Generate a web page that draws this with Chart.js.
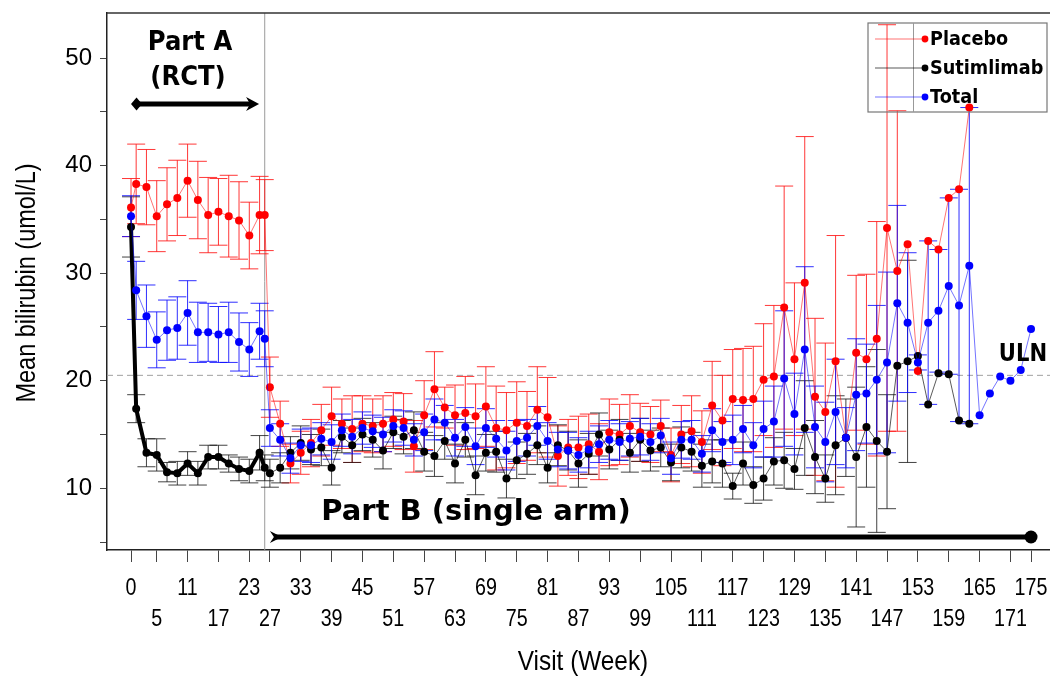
<!DOCTYPE html>
<html>
<head>
<meta charset="utf-8">
<title>Mean bilirubin by visit</title>
<script src="https://cdn.jsdelivr.net/npm/chart.js@4.4.0/dist/chart.umd.min.js"></script>
<style>
  html, body { margin: 0; padding: 0; background: #fff; overflow: hidden; }
  #wrap { width: 1050px; height: 677px; }
</style>
</head>
<body>
<div id="wrap"><canvas id="chart" width="1050" height="677"></canvas></div>
<script>
// visit weeks: Part A (RCT) then Part B (single arm)
const weeks = [
  0, 1, 3, 5, 7, 9, 11, 13, 15, 17, 19, 21, 23, 25, 26,
  27, 29, 31, 33, 35, 37, 39, 41, 43, 45,
  47, 49, 51, 53, 55, 57, 59, 61, 63, 65,
  67, 69, 71, 73, 75, 77, 79, 81, 83, 85,
  87, 89, 91, 93, 95, 97, 99, 101, 103, 105,
  107, 109, 111, 113, 115, 117, 119, 121, 123, 125,
  127, 129, 131, 133, 135, 137, 139, 141, 143, 145,
  147, 149, 151, 153, 155, 157, 159, 161, 163, 165,
  167, 169, 171, 173, 175
];

const placebo = [
  36.1, 38.3, 38.0, 35.3, 36.4, 37.0, 38.6, 36.8, 35.4, 35.7, 35.3, 34.9, 33.5, 35.4, 35.4,
  19.4, 16.0, 12.3, 13.3, 14.2, 15.4, 16.7, 16.0, 15.5, 16.0,
  15.8, 16.0, 16.4, 16.2, 13.9, 16.8, 19.2, 17.5, 16.8, 17.0,
  16.7, 17.6, 15.6, 15.4, 16.1, 15.8, 17.3, 16.6, 13.0, 13.8,
  13.8, 14.1, 13.4, 15.2, 15.0, 15.8, 15.2, 15.0, 15.8, 13.1,
  15.0, 15.3, 14.3, 17.7, 16.3, 18.3, 18.2, 18.3, 20.1, 20.4,
  26.8, 22.0, 29.1, 18.5, 17.1, 21.8, 14.7, 22.6, 22.0, 23.9,
  34.2, 30.2, 32.7, 20.9, 33.0, 32.2, 37.0, 37.8, 45.4, null,
  null, null, null, null, null
];
const placeboSE = [
  2.7, 3.7, 3.5, 3.3, 3.4, 3.5, 3.4, 3.6, 3.5, 3.1, 3.8, 3.6, 3.1, 3.6, 3.3,
  2.8, 2.1, 1.8, 2.0, 2.2, 2.4, 2.7, 2.3, 3.1, 2.6,
  2.5, 2.6, 2.5, 2.6, 2.4, 3.2, 3.5, 1.9, 2.8, 3.4,
  3.0, 3.7, 3.9, 3.5, 3.8, 3.2, 4.0, 3.7, 2.8, 2.6,
  2.9, 2.8, 2.6, 3.1, 2.8, 2.9, 2.7, 2.6, 2.4, 2.5,
  2.7, 3.3, 2.9, 4.1, 4.2, 4.6, 4.8, 4.9, 5.2, 6.6,
  11.3, 7.1, 13.6, 7.3, 6.4, 11.7, null, 7.2, 7.9, 10.9,
  18.9, 14.9, null, null, null, null, null, null, null, null,
  null, null, null, null, null
];

const sutimlimab = [
  34.3, 17.4, 13.3, 13.1, 11.5, 11.4, 12.3, 11.4, 12.9, 12.9, 12.3, 11.8, 11.6, 13.3, 11.9,
  11.4, 11.9, 13.3, 14.2, 13.6, 13.8, 11.9, 14.8, 14.0, 15.0,
  14.5, 13.5, 15.2, 14.8, 15.4, 13.4, 13.0, 14.4, 12.3, 14.5,
  11.2, 13.3, 13.4, 10.9, 12.6, 13.2, 14.0, 11.9, 14.0, 13.5,
  12.3, 13.2, 15.0, 13.6, 14.5, 13.3, 14.5, 13.5, 13.8, 12.4,
  13.8, 13.4, 12.1, 12.5, 12.3, 10.2, 12.3, 10.3, 10.9, 12.5,
  12.6, 11.8, 15.6, 12.9, 10.9, 14.0, 14.7, 12.9, 15.7, 14.4,
  13.4, 21.4, 21.8, 22.3, 17.8, 20.7, 20.6, 16.3, 16.0, null,
  null, null, null, null, null
];
const sutimlimabSE = [
  2.8, 1.3, 1.3, 1.5, 0.9, 1.1, 1.1, 1.1, 1.1, 1.1, 0.8, 1.1, 1.1, 1.6, 1.2,
  1.3, 1.4, 1.5, 1.6, 1.4, 1.7, 1.6, 1.5, 1.6, 1.5,
  1.6, 1.7, 1.5, 1.6, 1.7, 1.8, 1.9, 1.7, 1.8, 1.6,
  1.8, 1.7, 1.9, 1.8, 1.7, 1.9, 1.8, 1.4, 1.9, 1.8,
  2.2, 1.9, 2.0, 1.8, 1.9, 1.8, 2.0, 1.9, 1.8, 1.7,
  1.9, 1.8, 2.0, 2.0, 2.2, 1.2, 2.0, 1.7, 2.0, 2.2,
  2.6, 1.9, 4.4, 3.4, 2.2, 4.6, 3.6, 6.5, 5.6, 8.5,
  5.3, null, 9.4, null, null, null, null, null, null, null,
  null, null, null, null, null
];

const total = [
  35.3, 28.4, 26.0, 23.8, 24.7, 24.9, 26.3, 24.5, 24.5, 24.3, 24.5, 23.6, 22.9, 24.6, 23.9,
  15.6, 14.5, 12.8, 14.0, 14.0, 14.6, 14.3, 15.4, 14.8, 15.6,
  15.3, 15.0, 15.8, 15.6, 14.5, 15.2, 16.4, 16.1, 14.7, 15.7,
  13.9, 15.6, 14.6, 13.5, 14.4, 14.7, 15.8, 14.4, 13.6, 13.5,
  13.1, 13.6, 14.1, 14.5, 14.3, 14.6, 14.8, 14.3, 14.9, 12.8,
  14.5, 14.5, 13.2, 15.4, 14.3, 14.5, 15.5, 14.0, 15.5, 16.2,
  20.2, 16.9, 22.9, 15.7, 14.3, 17.1, 14.7, 18.7, 18.8, 20.1,
  21.7, 27.2, 25.4, 21.7, 25.4, 26.5, 28.8, 27.0, 30.7, 16.8,
  18.8, 20.4, 20.0, 21.0, 24.8
];
const totalSE = [
  1.9, 2.7, 2.9, 2.6, 2.8, 2.9, 3.0, 2.8, 2.7, 2.6, 2.8, 2.7, 2.5, 2.6, 2.6,
  1.7, 1.5, 1.4, 1.5, 1.6, 1.5, 1.6, 1.5, 1.6, 1.5,
  1.5, 1.6, 1.5, 1.6, 1.5, 1.7, 1.9, 1.6, 1.7, 1.8,
  1.7, 1.8, 1.7, 1.8, 1.9, 1.7, 1.8, 1.7, 1.6, 1.7,
  1.6, 1.7, 1.7, 1.8, 1.7, 1.6, 1.7, 1.7, 1.6, 1.5,
  1.7, 1.8, 1.7, 2.0, 1.9, 2.3, 2.2, 2.1, 2.6, 3.3,
  6.3, 3.8, 7.7, 3.8, 3.7, 4.9, 2.8, 5.2, 4.6, 6.9,
  8.4, 9.1, 6.5, 0.7, 7.6, 5.7, 8.2, 10.8, 14.7, null,
  null, null, null, null, null
];

const seriesNames = ['Placebo', 'Sutimlimab', 'Total'];
const xTickWeeks = [0, 5, 11, 17, 23, 27, 33, 39, 45, 51, 57, 63, 69, 75, 81, 87, 93, 99,
  105, 111, 117, 123, 129, 135, 141, 147, 153, 159, 165, 171, 175];
const yTickValues = [5, 10, 15, 20, 25, 30, 35, 40, 45, 50];
const ulnValue = 20.5;
const partBStart = 26;

const sansFont = "'Liberation Sans', Arial, sans-serif";
const boldFont = "'DejaVu Sans', Verdana, sans-serif";

const colors = {
  red: '#ff0000', redLine: 'rgba(255,0,0,0.55)', redBar: 'rgba(255,20,20,0.85)',
  black: '#000000', blackLine: 'rgba(0,0,0,0.65)', blackBar: 'rgba(20,20,20,0.8)',
  blue: '#0000ff', blueLine: 'rgba(0,0,255,0.55)', blueBar: 'rgba(10,10,255,0.85)'
};

function toPoints(vals) {
  return weeks.map((w, i) => ({ x: w, y: vals[i] }));
}

const errorSets = [placeboSE, sutimlimabSE, totalSE];
const barColors = [colors.redBar, colors.blackBar, colors.blueBar];

// vertical SE bars with caps, drawn under the markers
const errorBars = {
  id: 'errorBars',
  beforeDatasetsDraw(chart) {
    const { ctx, chartArea, scales } = chart;
    const y = scales.y;
    ctx.save();
    ctx.beginPath();
    ctx.rect(chartArea.left, chartArea.top, chartArea.right - chartArea.left, chartArea.bottom - chartArea.top);
    ctx.clip();

    // Part A / Part B divider and the ULN reference line
    const xDiv = scales.x.getPixelForValue(partBStart);
    ctx.strokeStyle = '#9a9a9a';
    ctx.lineWidth = 1;
    ctx.beginPath();
    ctx.moveTo(xDiv, chartArea.top);
    ctx.lineTo(xDiv, chartArea.bottom);
    ctx.stroke();

    const yUln = y.getPixelForValue(ulnValue);
    ctx.setLineDash([6, 4]);
    ctx.strokeStyle = '#a0a0a0';
    ctx.beginPath();
    ctx.moveTo(chartArea.left, yUln);
    ctx.lineTo(chartArea.right, yUln);
    ctx.stroke();
    ctx.setLineDash([]);

    chart.data.datasets.forEach((ds, di) => {
      const meta = chart.getDatasetMeta(di);
      const se = errorSets[di];
      ctx.strokeStyle = barColors[di];
      ctx.lineWidth = 1;
      meta.data.forEach((pt, j) => {
        const v = ds.data[j].y;
        if (v == null || se[j] == null) return;
        const yHi = y.getPixelForValue(v + se[j]);
        const yLo = y.getPixelForValue(v - se[j]);
        ctx.beginPath();
        ctx.moveTo(pt.x, yHi);
        ctx.lineTo(pt.x, yLo);
        ctx.moveTo(pt.x - 9, yHi);
        ctx.lineTo(pt.x + 9, yHi);
        ctx.moveTo(pt.x - 9, yLo);
        ctx.lineTo(pt.x + 9, yLo);
        ctx.stroke();
      });
    });
    ctx.restore();
  }
};

// text squeezed horizontally (narrow face look), optionally turned for the y title
function squeezedText(ctx, text, x, y, font, squeeze, angle) {
  ctx.save();
  ctx.font = font;
  ctx.fillStyle = '#000';
  ctx.textBaseline = 'middle';
  ctx.textAlign = 'center';
  ctx.translate(x, y);
  if (angle) ctx.rotate(angle);
  ctx.scale(squeeze, 1);
  ctx.fillText(text, 0, 0);
  ctx.restore();
}

function boldText(ctx, text, x, y, size, squeeze) {
  squeezedText(ctx, text, x, y, 'bold ' + size + 'px ' + boldFont, squeeze, 0);
}

// frame top, axis texts, study part arrows, labels and the legend box
const annotations = {
  id: 'annotations',
  afterDraw(chart) {
    const { ctx, chartArea, scales } = chart;
    const x = scales.x;
    ctx.save();

    ctx.strokeStyle = '#333';
    ctx.lineWidth = 1.5;
    ctx.beginPath();
    ctx.moveTo(chartArea.left, chartArea.top);
    ctx.lineTo(chartArea.right, chartArea.top);
    ctx.stroke();

    // week labels on two staggered rows
    x.ticks.forEach((t, i) => {
      const px = x.getPixelForValue(t.value);
      const py = i % 2 === 0 ? 588 : 619;
      squeezedText(ctx, String(t.value), px, py, '24px ' + sansFont, 0.82, 0);
    });
    squeezedText(ctx, 'Visit (Week)', 583, 662, '28px ' + sansFont, 0.87, 0);
    squeezedText(ctx, 'Mean bilirubin (umol/L)', 27, 283, '28px ' + sansFont, 0.84, -Math.PI / 2);

    // Part A double arrow
    const ax0 = x.getPixelForValue(0), ax1 = x.getPixelForValue(24.9), ay = 104;
    ctx.strokeStyle = '#000';
    ctx.fillStyle = '#000';
    ctx.lineWidth = 5;
    ctx.beginPath();
    ctx.moveTo(ax0 + 4, ay);
    ctx.lineTo(ax1 - 6, ay);
    ctx.stroke();
    ctx.beginPath();
    ctx.moveTo(ax0, ay);
    ctx.lineTo(ax0 + 5.5, ay - 6.5);
    ctx.lineTo(ax0 + 11, ay);
    ctx.lineTo(ax0 + 5.5, ay + 6.5);
    ctx.closePath();
    ctx.fill();
    ctx.beginPath();
    ctx.moveTo(ax1, ay);
    ctx.lineTo(ax1 - 13, ay - 7);
    ctx.lineTo(ax1 - 9, ay);
    ctx.lineTo(ax1 - 13, ay + 7);
    ctx.closePath();
    ctx.fill();

    boldText(ctx, 'Part A', 190, 43, 27, 0.9);
    boldText(ctx, '(RCT)', 188, 78, 27, 0.9);

    // Part B arrow to the last visit
    const bx0 = x.getPixelForValue(27), bx1 = x.getPixelForValue(175), by = 537;
    ctx.lineWidth = 5;
    ctx.beginPath();
    ctx.moveTo(bx0 + 6, by);
    ctx.lineTo(bx1, by);
    ctx.stroke();
    ctx.beginPath();
    ctx.moveTo(bx0 + 12, by);
    ctx.lineTo(bx0, by - 6);
    ctx.lineTo(bx0 + 4, by);
    ctx.lineTo(bx0, by + 6);
    ctx.closePath();
    ctx.fill();
    ctx.beginPath();
    ctx.arc(bx1, by, 6.5, 0, Math.PI * 2);
    ctx.fill();

    boldText(ctx, 'Part B (single arm)', 476, 512, 29, 1.0);
    boldText(ctx, 'ULN', 1023, 355, 24, 0.88);

    // legend
    const lx = 868, ly = 23, lw = 179, lh = 89;
    ctx.strokeStyle = '#777';
    ctx.lineWidth = 1.2;
    ctx.strokeRect(lx, ly, lw, lh);
    ctx.beginPath();
    ctx.moveTo(913.5, ly);
    ctx.lineTo(913.5, ly + lh);
    ctx.strokeStyle = '#999';
    ctx.lineWidth = 1;
    ctx.stroke();
    const legendLines = [colors.redLine, colors.blackLine, colors.blueLine];
    const legendDots = [colors.red, colors.black, colors.blue];
    seriesNames.forEach((name, i) => {
      const yy = 39 + i * 29;
      ctx.strokeStyle = legendLines[i];
      ctx.lineWidth = 1.2;
      ctx.beginPath();
      ctx.moveTo(875, yy);
      ctx.lineTo(925, yy);
      ctx.stroke();
      ctx.fillStyle = legendDots[i];
      ctx.beginPath();
      ctx.arc(925, yy, 3.4, 0, Math.PI * 2);
      ctx.fill();
      ctx.save();
      ctx.font = 'bold 19px ' + boldFont;
      ctx.fillStyle = '#000';
      ctx.textBaseline = 'middle';
      ctx.textAlign = 'left';
      ctx.translate(930, yy + 1);
      ctx.scale(0.93, 1);
      ctx.fillText(name, 0, 0);
      ctx.restore();
    });
    ctx.restore();
  }
};

const chart = new Chart(document.getElementById('chart'), {
  type: 'line',
  data: {
    datasets: [
      {
        label: seriesNames[0],
        data: toPoints(placebo),
        borderColor: colors.redLine,
        borderWidth: 1,
        pointBackgroundColor: colors.red,
        pointBorderWidth: 0,
        pointRadius: 4,
        order: 3
      },
      {
        label: seriesNames[1],
        data: toPoints(sutimlimab),
        borderColor: colors.blackLine,
        borderWidth: 1,
        segment: {
          borderWidth: c => (c.p1.parsed.x <= partBStart ? 4 : 1),
          borderColor: c => (c.p1.parsed.x <= partBStart ? '#000' : colors.blackLine)
        },
        pointBackgroundColor: colors.black,
        pointBorderWidth: 0,
        pointRadius: 4,
        order: 2
      },
      {
        label: seriesNames[2],
        data: toPoints(total),
        borderColor: colors.blueLine,
        borderWidth: 1,
        pointBackgroundColor: colors.blue,
        pointBorderWidth: 0,
        pointRadius: 4,
        order: 1
      }
    ]
  },
  options: {
    responsive: false,
    animation: false,
    devicePixelRatio: 1,
    layout: { autoPadding: false, padding: { top: 13, right: 0, left: 0, bottom: 0 } },
    plugins: { legend: { display: false }, tooltip: { enabled: false } },
    elements: { line: { tension: 0 } },
    scales: {
      x: {
        type: 'linear',
        min: -4.67,
        max: 178.69,
        afterBuildTicks: s => { s.ticks = xTickWeeks.map(v => ({ value: v })); },
        afterFit: s => {
          s.height = 127;
          s.paddingLeft = 0;
          s.paddingRight = 0;
        },
        ticks: { display: false },
        grid: { drawOnChartArea: false, tickLength: 12, color: '#444', tickWidth: 1 },
        border: { color: '#222', width: 1.5 },
        title: { display: false }
      },
      y: {
        min: 4.26,
        max: 54.19,
        afterBuildTicks: s => { s.ticks = yTickValues.map(v => ({ value: v })); },
        afterFit: s => {
          s.width = 107;
          s.paddingTop = 0;
          s.paddingBottom = 0;
        },
        ticks: {
          color: '#000',
          padding: 8,
          font: { family: sansFont, size: 24 },
          callback: v => (v % 10 === 0 ? String(v) : '')
        },
        grid: { drawOnChartArea: false, tickLength: 7, color: '#444', tickWidth: 1 },
        border: { color: '#222', width: 1.5 },
        title: { display: false }
      }
    }
  },
  plugins: [errorBars, annotations]
});
</script>
</body>
</html>
